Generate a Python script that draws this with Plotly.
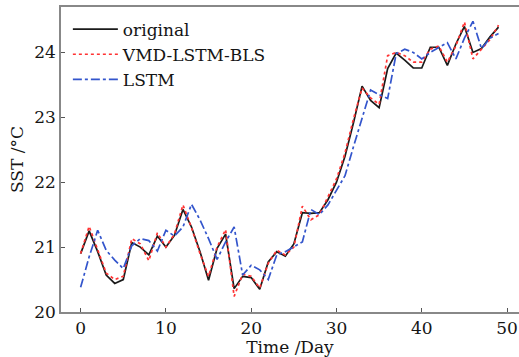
import plotly.graph_objects as go

days = list(range(50))
original = [20.90, 21.25, 20.93, 20.57, 20.44, 20.50, 21.07, 21.00, 20.88, 21.17,
            21.00, 21.18, 21.58, 21.31, 20.93, 20.49, 20.98, 21.20, 20.36, 20.55,
            20.53, 20.35, 20.77, 20.93, 20.86, 21.05, 21.53, 21.52, 21.53, 21.73,
            22.00, 22.40, 22.92, 23.48, 23.26, 23.15, 23.75, 23.99, 23.88, 23.76,
            23.76, 24.08, 24.08, 23.80, 24.13, 24.40, 24.00, 24.06, 24.24, 24.39]
vmd_lstm_bls = [20.90, 21.32, 20.96, 20.60, 20.50, 20.55, 21.13, 21.05, 20.79, 21.22,
                21.00, 21.20, 21.65, 21.30, 20.90, 20.55, 21.00, 21.27, 20.24, 20.58,
                20.55, 20.37, 20.75, 20.95, 20.88, 21.00, 21.63, 21.42, 21.50, 21.78,
                22.05, 22.45, 22.98, 23.45, 23.30, 23.20, 23.95, 24.00, 23.95, 23.85,
                23.85, 24.05, 24.10, 23.85, 24.10, 24.47, 23.90, 24.05, 24.20, 24.42]
lstm = [20.38, 20.85, 21.26, 20.95, 20.80, 20.67, 21.02, 21.13, 21.10, 20.94,
        21.26, 21.17, 21.31, 21.66, 21.42, 21.13, 20.81, 21.08, 21.31, 20.57,
        20.72, 20.65, 20.50, 20.88, 20.93, 21.00, 21.08, 21.58, 21.50, 21.65,
        21.87, 22.10, 22.55, 23.00, 23.42, 23.35, 23.29, 23.98, 24.05, 24.00,
        23.90, 24.00, 24.08, 24.15, 23.90, 24.22, 24.48, 24.06, 24.22, 24.29]

font_family = "DejaVu Serif"

fig = go.Figure()
fig.add_trace(go.Scatter(x=days, y=original, mode="lines", name="original",
                         line=dict(color="#1a1a1a", width=1.7)))
fig.add_trace(go.Scatter(x=days, y=vmd_lstm_bls, mode="lines", name="VMD-LSTM-BLS",
                         line=dict(color="#ff3333", width=1.7, dash="dot")))
fig.add_trace(go.Scatter(x=days, y=lstm, mode="lines", name="LSTM",
                         line=dict(color="#3355cc", width=1.7, dash="dashdot")))

fig.update_layout(
    width=519, height=357,
    margin=dict(l=61, r=0, t=7, b=45),
    paper_bgcolor="white", plot_bgcolor="white",
    font=dict(family=font_family, size=17, color="#151515"),
    showlegend=True,
    legend=dict(x=0.015, y=0.985, xanchor="left", yanchor="top",
                bgcolor="rgba(0,0,0,0)", font=dict(size=17),
                tracegroupgap=0, itemwidth=45),
    xaxis=dict(range=[-2.3, 51.4], tickvals=[0, 10, 20, 30, 40, 50],
               showgrid=False, zeroline=False, showline=True, linecolor="#888888",
               linewidth=1.5, mirror=True, ticks="inside", ticklen=4, tickcolor="#555555",
               title=dict(text="Time /Day", standoff=2, font=dict(size=17))),
    yaxis=dict(range=[20, 24.7], tickvals=[20, 21, 22, 23, 24],
               showgrid=False, zeroline=False, showline=True, linecolor="#888888",
               linewidth=1.5, ticks="inside", ticklen=4, tickcolor="#555555",
               title=dict(text="SST /°C", standoff=6, font=dict(size=17))),
)

fig.write_html("out.html", config={"displayModeBar": False},
               post_script="document.body.style.margin='0px';")
